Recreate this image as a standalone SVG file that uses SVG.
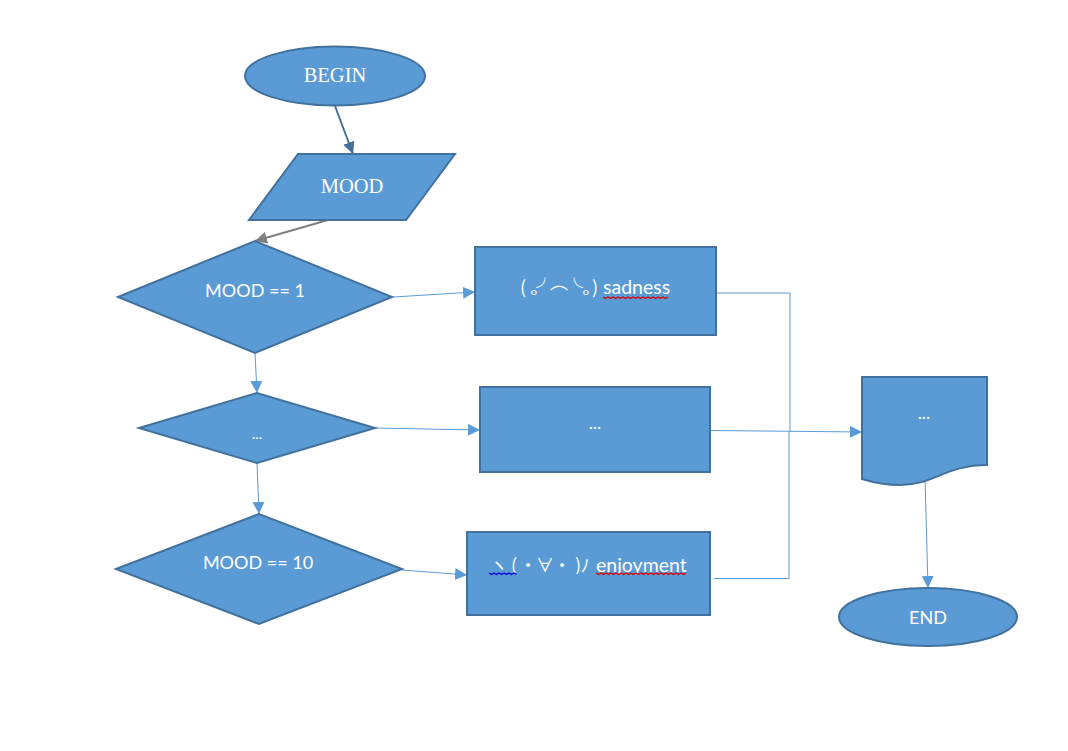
<svg xmlns="http://www.w3.org/2000/svg" width="1068" height="751" viewBox="0 0 1068 751">
<style>
.n{fill:#5b9bd5;stroke:#41719c;stroke-width:2}
.t{fill:#fff;font-family:"Lato","Noto Sans CJK JP",sans-serif;font-size:18px;text-anchor:middle}
.k{fill:#fff;font-family:"Noto Sans CJK JP",sans-serif;font-size:18px;text-anchor:middle}
.e{fill:#fff;font-family:"Lato",sans-serif;font-size:19.500px}
.s{fill:#fff;font-family:"Liberation Serif",serif;font-size:20.500px;text-anchor:middle}
.c{fill:none;stroke:#5b9bd5;stroke-width:1}
.w{fill:none;stroke-width:1.400}
</style>
<defs>
<marker id="a" markerUnits="userSpaceOnUse" markerWidth="14" markerHeight="14" refX="12" refY="6" orient="auto"><path d="M0 0L12 6L0 12Z" fill="#5b9bd5"/></marker>
<marker id="b" markerUnits="userSpaceOnUse" markerWidth="14" markerHeight="14" refX="12" refY="6" orient="auto"><path d="M0 0L12 6L0 12Z" fill="#41719c"/></marker>
<marker id="g" markerUnits="userSpaceOnUse" markerWidth="14" markerHeight="14" refX="12" refY="6" orient="auto"><path d="M0 0L12 6L0 12Z" fill="#7f7f7f"/></marker>
<clipPath id="clip"><rect x="480" y="545" width="220" height="29"/></clipPath>
</defs>
<g id="connectors">
<path d="M335 106L353 154" fill="none" stroke="#41719c" stroke-width="2" marker-end="url(#b)"/>
<path d="M328 220L255 241" fill="none" stroke="#7f7f7f" stroke-width="2" marker-end="url(#g)"/>
<path class="c" d="M393 297L475 292" marker-end="url(#a)"/>
<path class="c" d="M255 353L257 393" marker-end="url(#a)"/>
<path class="c" d="M375 428L480 430" marker-end="url(#a)"/>
<path class="c" d="M257 463L259 514" marker-end="url(#a)"/>
<path class="c" d="M402 570L467 575" marker-end="url(#a)"/>
<path class="c" d="M717 293H790V431"/>
<path class="c" d="M714 578.500H789V431"/>
<path class="c" d="M711 430.500L862 432" marker-end="url(#a)"/>
<path class="c" d="M925 478L928 588" marker-end="url(#a)"/>
</g>
<g id="begin"><ellipse class="n" cx="335" cy="76" rx="90" ry="29.500"/><text class="s" x="335" y="81.500">BEGIN</text></g>
<g id="mood"><path class="n" d="M298 154H455L406 220H249Z"/><text class="s" x="352" y="192.500">MOOD</text></g>
<g id="decision1"><path class="n" d="M118 297L255 241L392 297L255 353Z"/><text class="t" x="255" y="297">MOOD == 1</text></g>
<g id="decision2"><path class="n" d="M139 428L257 393L375 428L257 463Z"/><text class="t" x="257" y="439" style="font-size:14px">...</text></g>
<g id="decision3"><path class="n" d="M116 569L259 514L402 569L259 624Z"/><text class="t" x="258" y="569">MOOD == 10</text></g>
<g id="sadness"><rect class="n" x="475" y="247" width="241" height="88"/>
<text class="k" x="523 535 545 559 574 587 595" y="294 294 294 289 294 294 294">(｡╯︵╰｡)</text>
<text class="e" x="603" y="294">sadness</text>
<path class="w" stroke="#e00000" d="M603 297l2.500 1.500 2.500-1.500 2.500 1.500 2.500-1.500 2.500 1.500 2.500-1.500 2.500 1.500 2.500-1.500 2.500 1.500 2.500-1.500 2.500 1.500 2.500-1.500 2.500 1.500 2.500-1.500 2.500 1.500 2.500-1.500 2.500 1.500 2.500-1.500 2.500 1.500 2.500-1.500 2.500 1.500 2.500-1.500 2.500 1.500 2.500-1.500 2.500 1.500 2.500-1.500"/></g>
<g id="middle"><rect class="n" x="480" y="387" width="230" height="85"/><text class="t" x="595" y="429">...</text></g>
<g id="enjoyment"><rect class="n" x="467" y="532" width="243" height="83"/>
<text class="k" x="499 514 528 545 562 578 585" y="572" clip-path="url(#clip)">ヽ(・∀・)ﾉ</text>
<text class="e" x="596" y="572" clip-path="url(#clip)">enjoyment</text>
<path class="w" stroke="#0000e0" d="M489 573l2.500 1.500 2.500-1.500 2.500 1.500 2.500-1.500 2.500 1.500 2.500-1.500 2.500 1.500 2.500-1.500 2.500 1.500 2.500-1.500 2.500 1.500"/>
<path class="w" stroke="#e00000" d="M596 573l2.500 1.500 2.500-1.500 2.500 1.500 2.500-1.500 2.500 1.500 2.500-1.500 2.500 1.500 2.500-1.500 2.500 1.500 2.500-1.500 2.500 1.500 2.500-1.500 2.500 1.500 2.500-1.500 2.500 1.500 2.500-1.500 2.500 1.500 2.500-1.500 2.500 1.500 2.500-1.500 2.500 1.500 2.500-1.500 2.500 1.500 2.500-1.500 2.500 1.500 2.500-1.500 2.500 1.500 2.500-1.500 2.500 1.500 2.500-1.500 2.500 1.500 2.500-1.500 2.500 1.500 2.500-1.500 2.500 1.500 2.500-1.500"/></g>
<g id="document"><path class="n" d="M862 377H987V465C945 465 935 485 900 485C885 485 875 483 862 479Z"/><text class="t" x="924" y="419">...</text></g>
<g id="end"><ellipse class="n" cx="928" cy="617" rx="89" ry="29"/><text class="t" x="928" y="624">END</text></g>
</svg>
